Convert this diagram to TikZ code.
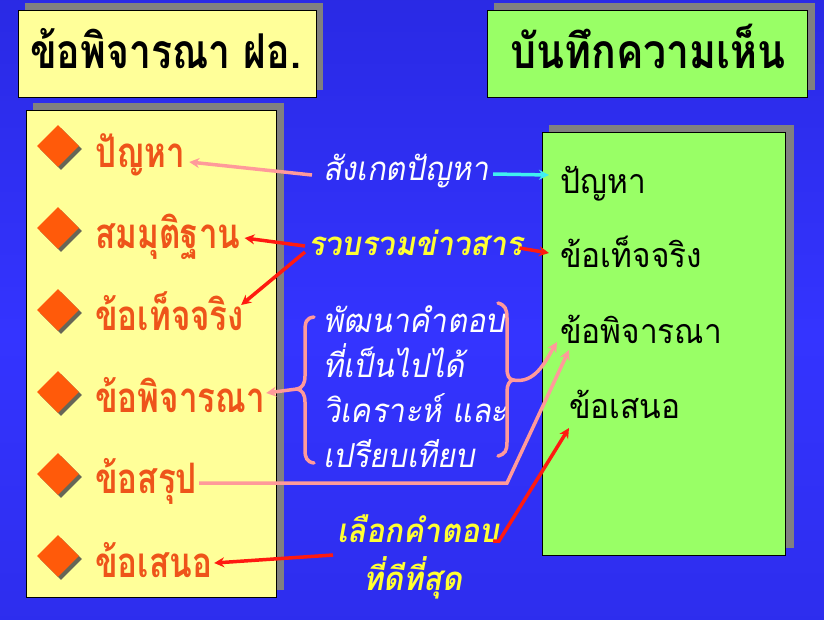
\documentclass[tikz,border=0pt]{standalone}
\usepackage{fontspec}
\newfontfamily\thaiT[Script=Thai,FakeStretch=0.815]{Loma}
\newfontfamily\thaiU[Script=Thai,FakeStretch=0.855]{Loma}
\newfontfamily\thaiL[Script=Thai,FakeStretch=0.79]{Loma}
\newfontfamily\thaiR[Script=Thai,FakeStretch=0.93]{Loma}
\newfontfamily\thaiM[Script=Thai,FakeStretch=0.93,FakeSlant=0.18]{Loma}
\usetikzlibrary{shapes.geometric,shadows,arrows.meta}
\definecolor{bgtop}{HTML}{0A0A95}
\definecolor{bgmid}{HTML}{3434FF}
\definecolor{bgbot}{HTML}{0C0C96}
\definecolor{boxyellow}{HTML}{FFFF99}
\definecolor{boxgreen}{HTML}{99FF66}
\definecolor{shadowgray}{HTML}{808080}
\definecolor{itemorange}{HTML}{EE541A}
\definecolor{diamondorange}{HTML}{FF5A0A}
\definecolor{pinkline}{HTML}{FF9A9A}
\definecolor{redline}{HTML}{FF1A10}
\definecolor{cyanline}{HTML}{40F0F0}
\definecolor{midyellow}{HTML}{FFFF33}
\pgfdeclareverticalshading{bgshade}{100bp}{color(0bp)=(bgbot); color(20bp)=(bgmid!80!bgbot); color(48bp)=(bgmid); color(75bp)=(bgmid!75!bgtop); color(100bp)=(bgtop)}
\tikzset{
  txt/.style={inner sep=0pt, anchor=base west, text height=7.5pt, text depth=2.5pt},
  titletxt/.style={txt, font=\thaiT\bfseries\fontsize{48}{54}\selectfont, text=black},
  titletxtb/.style={txt, font=\thaiU\bfseries\fontsize{48}{54}\selectfont, text=black},
  leftitem/.style={txt, font=\thaiL\bfseries\fontsize{42}{48}\selectfont, text=itemorange},
  rightitem/.style={txt, font=\thaiR\fontsize{34}{40}\selectfont, text=black},
  midwhite/.style={txt, font=\thaiM\fontsize{33}{39}\selectfont, text=white},
  midyel/.style={txt, font=\thaiM\bfseries\fontsize{33}{39}\selectfont, text=midyellow},
  bullet/.style={diamond, fill=diamondorange, minimum size=42pt, inner sep=0pt,
    drop shadow={shadow xshift=3pt, shadow yshift=-3pt, opacity=0.85, fill=black!70}},
  boxshadow/.style={fill=shadowgray},
  panel/.style={draw=black, line width=1pt},
  pk/.style={draw=pinkline, line width=3.5pt, -{Stealth[length=10pt,width=10pt]}},
  pkplain/.style={draw=pinkline, line width=3.5pt, line cap=round},
  rd/.style={draw=redline, line width=3.5pt, -{Stealth[length=10pt,width=10pt]}},
  cy/.style={draw=cyanline, line width=3.5pt, -{Stealth[length=10pt,width=10pt]}},
}
\begin{document}
\begin{tikzpicture}[x=1pt,y=-1pt]
\useasboundingbox (0,0) rectangle (824,619);
\shade[shading=bgshade] (0,0) rectangle (824,619);
% title boxes
\fill[boxshadow] (25,3) rectangle (323,90);
\fill[boxyellow] (18,10) rectangle (316,97);
\draw[panel] (18,10) rectangle (316,97);
\fill[boxshadow] (494,3) rectangle (815,90);
\fill[boxgreen] (487,10) rectangle (807,97);
\draw[panel] (487,10) rectangle (807,97);
% main boxes
\fill[boxshadow] (33,103) rectangle (284,590);
\fill[boxyellow] (26,110) rectangle (276,597);
\draw[panel] (26,110) rectangle (276,597);
\fill[boxshadow] (549,125) rectangle (794,548);
\fill[boxgreen] (542,132) rectangle (785,555);
\draw[panel] (542,132) rectangle (785,555);
% titles
\node[titletxt] (t1) at (30,68) {ข้อพิจารณา ฝอ.};
\node[titletxtb] (t2) at (510,68) {บันทึกความเห็น};
% bullets
\foreach \i/\y in {1/146,2/228,3/310,4/392,5/474,6/556}
  \node[bullet] (d\i) at (58,\y) {};
% left items
\node[leftitem] (L1) at (95,167) {ปัญหา};
\node[leftitem] (L2) at (95,248) {สมมุติฐาน};
\node[leftitem] (L3) at (95,330) {ข้อเท็จจริง};
\node[leftitem] (L4) at (95,412) {ข้อพิจารณา};
\node[leftitem] (L5) at (95,493) {ข้อสรุป};
\node[leftitem] (L6) at (95,577) {ข้อเสนอ};
% right items
\node[rightitem] (R1) at (560,193) {ปัญหา};
\node[rightitem] (R2) at (560,267) {ข้อเท็จจริง};
\node[rightitem] (R3) at (560,343) {ข้อพิจารณา};
\node[rightitem] (R4) at (569,418) {ข้อเสนอ};
% middle texts
\node[midwhite] (obs) at (323,180) {สังเกตปัญหา};
\node[midyel] (gat) at (308,255) {รวบรวมข่าวสาร};
\node[midwhite] (b1) at (323,332) {พัฒนาคำตอบ};
\node[midwhite] (b2) at (323,377) {ที่เป็นไปได้};
\node[midwhite] (b3) at (323,422) {วิเคราะห์ และ};
\node[midwhite] (b4) at (323,467) {เปรียบเทียบ};
\node[midyel] (ch1) at (337,542) {เลือกคำตอบ};
\node[midyel] (ch2) at (363,590) {ที่ดีที่สุด};
% braces
\coordinate (lbtip) at (297,389);
\coordinate (rbtip) at (513,380);
\draw[pkplain] (314,317) .. controls (306,318) and (305,322) .. (305,332) -- (305,376)
  .. controls (305,384) and (302,388) .. (lbtip) .. controls (302,390) and (305,394) .. (305,402)
  -- (305,450) .. controls (305,458) and (307,462) .. (314,463);
\draw[pkplain] (498,303) .. controls (505,305) and (507,309) .. (507,318) -- (507,368)
  .. controls (507,376) and (509,379) .. (rbtip) .. controls (509,381) and (507,385) .. (507,392)
  -- (507,442) .. controls (507,451) and (505,454) .. (498,456);
% connectors
\draw[pk] ([xshift=-11pt,yshift=2.5pt]obs.west) -- ([xshift=4pt,yshift=2.5pt]L1.east);
\draw[cy] ([xshift=4pt,yshift=3.5pt]obs.east) -- ([xshift=-11pt,yshift=15.5pt]R1.west);
\draw[rd] ([xshift=-3pt,yshift=6.5pt]gat.west) -- ([xshift=4pt,yshift=7.5pt]L2.east);
\draw[rd] ([xshift=-3pt,yshift=0.5pt]gat.west) -- ([xshift=-3pt,yshift=22.5pt]L3.east);
\draw[rd] ([xshift=-4pt,yshift=4.5pt]gat.east) -- ([xshift=-11pt,yshift=11.5pt]R2.west);
\draw[pk] (lbtip) -- ([xshift=1pt,yshift=16.5pt]L4.east);
\draw[pk] (rbtip) .. controls (535,384) and (545,362) .. ([xshift=-3pt,yshift=-1.5pt]R3.west);
\draw[pk] ([xshift=2pt,yshift=7.5pt]L5.east) -- (507,483) -- ([xshift=9pt,yshift=-9.5pt]R3.west);
\draw[rd] ([xshift=-4pt,yshift=-15.5pt]ch1.west) -- ([xshift=2pt,yshift=11.5pt]L6.east);
\draw[rd] ([xshift=-6pt,yshift=-1.5pt]ch1.east) -- (499,541) -- ([yshift=-12.5pt]R4.west);
\end{tikzpicture}
\end{document}
